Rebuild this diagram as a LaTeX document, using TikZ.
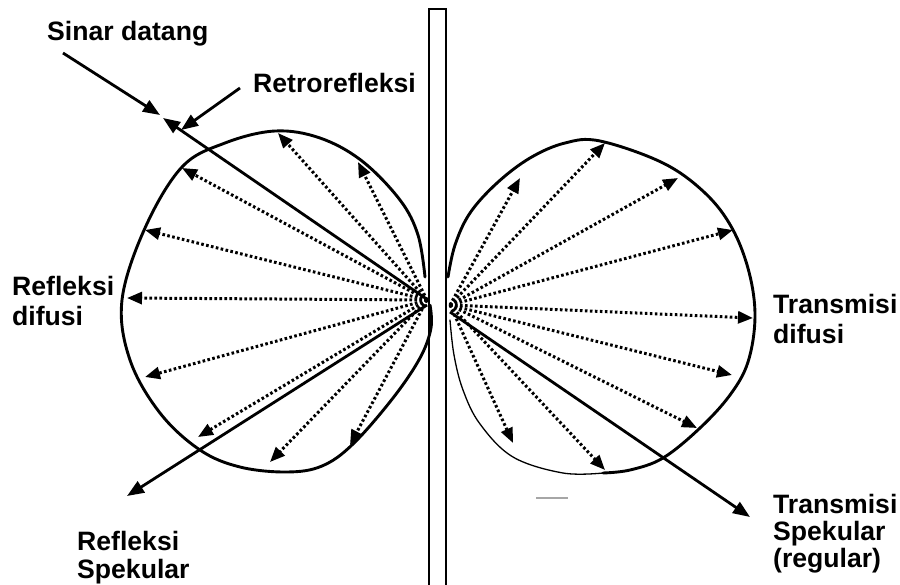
\documentclass[tikz,border=0pt]{standalone}
\usepackage{fontspec}
\setmainfont{Liberation Sans}
\usetikzlibrary{arrows.meta}
\begin{document}
\begin{tikzpicture}[x=1pt,y=-1pt,
  lbl/.style={font=\fontsize{26.6}{28}\selectfont\bfseries, anchor=base west, inner sep=0pt},
  solidray/.style={line width=2.8pt, -{Triangle[length=17pt,width=13pt]}},
  dotray/.style={line width=3pt, dash pattern=on 2.6pt off 2.4pt, -{Triangle[length=15pt,width=12pt]}},
  lobe/.style={line width=2.9pt, line join=round, line cap=round},
  thinlobe/.style={line width=1.3pt, line cap=round},
  plate/.style={line width=2.8pt}
  ]
\useasboundingbox (0,0) rectangle (900,584);

% plate
\draw[plate] (429,590) -- (429,9) -- (446,9) -- (446,590);

% lobes
\draw[lobe] plot[smooth, tension=0.6] coordinates {(425,277) (418,235) (400,200) (362,161) (320,138) (275,131) (225,143) (182,167) (145,228) (122,300) (130,360) (160,413) (200,450) (240,467) (287,472) (322,466) (353,444) (393,398) (420,358) (431,328) (430,305)};
\draw[lobe] plot[smooth, tension=0.6] coordinates {(448,277) (455,245) (470,213) (497,183) (530,158) (565,143) (600,141) (663,163) (705,193) (732,228) (749,272) (755,317) (748,362) (730,395) (700,428) (663,458) (630,470) (603,473)};
\draw[thinlobe] plot[smooth, tension=0.6] coordinates {(603,473) (563,473) (513,457) (480,424) (463,390) (454,355) (450,320)};
\draw[gray!70, line width=1.6pt] (536,498) -- (568,498);

% origins
\coordinate (OL) at (427,300);
\coordinate (OR) at (450,305);

% left dotted arrow ends
\coordinate (L1) at (278,133);
\coordinate (L2) at (358,162);
\coordinate (L3) at (182,168);
\coordinate (L4) at (145,230);
\coordinate (L5) at (127,298);
\coordinate (L6) at (145,377);
\coordinate (L7) at (198,437);
\coordinate (L8) at (270,462);
\coordinate (L9) at (350,445);
% right dotted arrow ends
\coordinate (R1) at (520,178);
\coordinate (R2) at (605,143);
\coordinate (R3) at (678,178);
\coordinate (R4) at (733,230);
\coordinate (R5) at (753,318);
\coordinate (R6) at (732,375);
\coordinate (R7) at (697,428);
\coordinate (R8) at (605,470);
\coordinate (R9) at (513,443);

\draw[dotray] (OL) -- (L1);
\draw[dotray] (OL) -- (L2);
\draw[dotray] (OL) -- (L3);
\draw[dotray] (OL) -- (L4);
\draw[dotray] (OL) -- (L5);
\draw[dotray] (OL) -- (L6);
\draw[dotray] (OL) -- (L7);
\draw[dotray] (OL) -- (L8);
\draw[dotray] (OL) -- (L9);
\draw[dotray] (OR) -- (R1);
\draw[dotray] (OR) -- (R2);
\draw[dotray] (OR) -- (R3);
\draw[dotray] (OR) -- (R4);
\draw[dotray] (OR) -- (R5);
\draw[dotray] (OR) -- (R6);
\draw[dotray] (OR) -- (R7);
\draw[dotray] (OR) -- (R8);
\draw[dotray] (OR) -- (R9);

% solid rays
\coordinate (inS) at (63,53);
\coordinate (inT) at (160,115);
\coordinate (hit) at (428,300);
\coordinate (retT) at (163,118);
\coordinate (ptS) at (240,88);
\coordinate (ptT) at (181,130);
\coordinate (srS) at (427,305);
\coordinate (srT) at (127,496);
\coordinate (stS) at (450,312);
\coordinate (stT) at (750,517);
\draw[solidray] (inS) -- (inT);
\draw[solidray] (hit) -- (retT);
\draw[solidray] (ptS) -- (ptT);
\draw[solidray] (srS) -- (srT);
\draw[solidray] (stS) -- (stT);

% labels
\node[lbl] (sd) at (47,40) {Sinar datang};
\node[lbl] (rr) at (253,92) {Retrorefleksi};
\node[lbl] (rd1) at (12,295) {Refleksi};
\node[lbl] (rd2) at (12,325) {difusi};
\node[lbl] (td1) at (773,313) {Transmisi};
\node[lbl] (td2) at (773,343) {difusi};
\node[lbl] (rs1) at (77,550) {Refleksi};
\node[lbl] (rs2) at (77,578) {Spekular};
\node[lbl] (ts1) at (773,513) {Transmisi};
\node[lbl] (ts2) at (773,540) {Spekular};
\node[lbl] (ts3) at (773,567) {(regular)};
\end{tikzpicture}
\end{document}
